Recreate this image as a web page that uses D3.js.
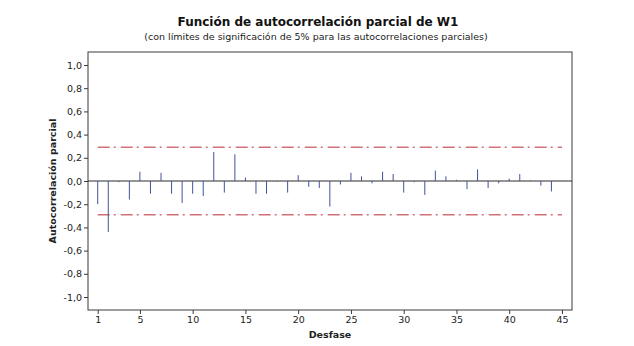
<!DOCTYPE html>
<html>
<head>
<meta charset="utf-8">
<script src="https://cdn.jsdelivr.net/npm/d3@7"></script>
<style>
  body { margin: 0; background: #fff; }
  svg { display: block; }
</style>
</head>
<body>
<svg id="chart" width="634" height="346"></svg>
<script>
// lags and partial autocorrelations
const lags = [1, 2, 3, 4, 5, 6, 7, 8, 9, 10, 11, 12, 13, 14, 15, 16, 17, 18, 19, 20, 21, 22,
              23, 24, 25, 26, 27, 28, 29, 30, 31, 32, 33, 34, 35, 36, 37, 38, 39, 40, 41, 42, 43, 44, 45];
const pacf = [-0.20, -0.44, -0.01, -0.16, 0.08, -0.11, 0.07, -0.11, -0.19, -0.11, -0.13, 0.25,
              -0.10, 0.23, 0.03, -0.11, -0.11, -0.005, -0.10, 0.05, -0.05, -0.06, -0.22, -0.03,
              0.07, 0.04, -0.02, 0.08, 0.06, -0.10, -0.01, -0.12, 0.09, 0.04, 0.01, -0.07,
              0.10, -0.06, -0.02, 0.02, 0.06, 0.005, -0.04, -0.09, 0.002];
const limit = 0.29;
const xTicks = [1, 5, 10, 15, 20, 25, 30, 35, 40, 45];
const yTicks = [1.0, 0.8, 0.6, 0.4, 0.2, 0.0, -0.2, -0.4, -0.6, -0.8, -1.0];

const titleText = "Función de autocorrelación parcial de W1";
const subtitleText = "(con límites de significación de 5% para las autocorrelaciones parciales)";
const xLabel = "Desfase";
const yLabel = "Autocorrelación parcial";

const svg = d3.select("#chart");
const font = "DejaVu Sans, Verdana, sans-serif";

const plotLeft = 88, plotRight = 572, plotTop = 52, plotBottom = 310;

var x = d3.scaleLinear().domain([0.08, 45.95]).range([plotLeft, plotRight]);
var y = d3.scaleLinear().domain([-1.112, 1.112]).range([plotBottom, plotTop]);

var fmt = v => d3.format(".1f")(v).replace(".", ",").replace("−", "-");

// frame
svg.append("rect")
    .attr("x", plotLeft).attr("y", plotTop)
    .attr("width", plotRight - plotLeft).attr("height", plotBottom - plotTop)
    .attr("fill", "none")
    .attr("stroke", "#3a3a3a")
    .attr("stroke-width", 1);

// y axis
var yAxis = svg.append("g")
    .attr("transform", `translate(${plotLeft},0)`)
    .call(d3.axisLeft(y).tickValues(yTicks).tickSize(4).tickPadding(2).tickFormat(fmt));
yAxis.select(".domain").remove();
yAxis.selectAll(".tick line").attr("stroke", "#3a3a3a");
yAxis.selectAll("text")
    .attr("font-family", font).attr("font-size", 9.5).attr("fill", "#222");

// x axis
var xAxis = svg.append("g")
    .attr("transform", `translate(0,${plotBottom})`)
    .call(d3.axisBottom(x).tickValues(xTicks).tickSize(4).tickPadding(2).tickFormat(d3.format("d")));
xAxis.select(".domain").remove();
xAxis.selectAll(".tick line").attr("stroke", "#3a3a3a");
xAxis.selectAll("text")
    .attr("font-family", font).attr("font-size", 9.5).attr("fill", "#222");

// zero line
svg.append("line")
    .attr("x1", plotLeft).attr("x2", plotRight)
    .attr("y1", y(0)).attr("y2", y(0))
    .attr("stroke", "#2a2a2a")
    .attr("stroke-width", 1);

// significance limits
svg.selectAll("line.limit").data([limit, -limit])
    .join("line")
    .attr("class", "limit")
    .attr("x1", x(lags[0])).attr("x2", x(lags[lags.length - 1]))
    .attr("y1", d => y(d)).attr("y2", d => y(d))
    .attr("stroke", "#d2707a")
    .attr("stroke-width", 1.5)
    .attr("stroke-dasharray", "12,4,2,5");

// spikes
svg.selectAll("line.spike").data(lags)
    .join("line")
    .attr("class", "spike")
    .attr("x1", d => x(d)).attr("x2", d => x(d))
    .attr("y1", y(0))
    .attr("y2", (d, i) => y(pacf[i]))
    .attr("stroke", "#42529a")
    .attr("stroke-width", 1);

// titles
svg.append("text")
    .attr("x", 318).attr("y", 26)
    .attr("text-anchor", "middle")
    .attr("font-family", font).attr("font-weight", "bold").attr("font-size", 12)
    .attr("fill", "#111")
    .text(titleText);

svg.append("text")
    .attr("x", 316).attr("y", 40)
    .attr("text-anchor", "middle")
    .attr("font-family", font).attr("font-size", 9.5)
    .attr("fill", "#222")
    .text(subtitleText);

svg.append("text")
    .attr("x", 330).attr("y", 338)
    .attr("text-anchor", "middle")
    .attr("font-family", font).attr("font-weight", "bold").attr("font-size", 9.5)
    .attr("fill", "#222")
    .text(xLabel);

svg.append("text")
    .attr("transform", `translate(56,${y(0)}) rotate(-90)`)
    .attr("text-anchor", "middle")
    .attr("font-family", font).attr("font-weight", "bold").attr("font-size", 9.5)
    .attr("fill", "#222")
    .text(yLabel);
</script>
</body>
</html>
